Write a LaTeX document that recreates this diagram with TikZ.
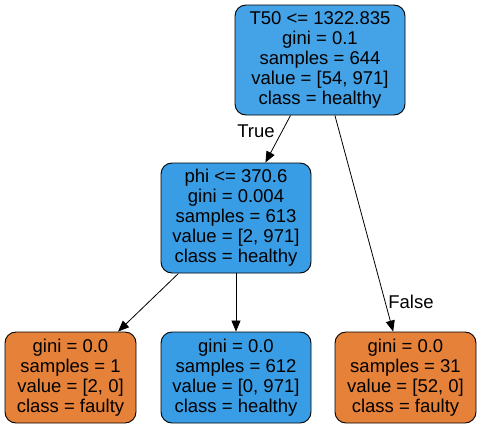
\documentclass[tikz,border=0pt]{standalone}
\usepackage{fontspec}
\setmainfont{Liberation Sans}
\usetikzlibrary{arrows.meta}
\definecolor{healthyblue}{HTML}{399DE5}
\definecolor{rootblue}{HTML}{44A2E6}
\definecolor{faultyorange}{HTML}{E58139}
\begin{document}
\begin{tikzpicture}[x=1pt,y=-1pt,
        treenode/.style={rectangle, rounded corners=11pt, draw=black, line width=0.9pt, align=center, inner sep=0pt, minimum height=110pt, font=\fontsize{18.5}{20}\selectfont},
        leafnode/.style={treenode, minimum height=91pt},
        edgelabel/.style={inner sep=0pt, font=\fontsize{18.5}{20}\selectfont},
        split/.style={-{Triangle[length=11pt,width=9pt]}, line width=0.8pt},
    ]
        \useasboundingbox (0,0) rectangle (481,429);

        %Nodes
        \node[treenode, fill=rootblue, minimum width=170pt] (root) at (320,60) {T50 <= 1322.835\\gini = 0.1\\samples = 644\\value = [54, 971]\\class = healthy};

        \node[treenode, fill=healthyblue, minimum width=150pt] (phi) at (236,218) {phi <= 370.6\\gini = 0.004\\samples = 613\\value = [2, 971]\\class = healthy};

        \node[leafnode, fill=faultyorange, minimum width=131pt] (leafA) at (70.5,377.5) {gini = 0.0\\samples = 1\\value = [2, 0]\\class = faulty};
        \node[leafnode, fill=healthyblue, minimum width=150pt] (leafB) at (236,377.5) {gini = 0.0\\samples = 612\\value = [0, 971]\\class = healthy};
        \node[leafnode, fill=faultyorange, minimum width=141pt] (leafC) at (405.5,377.5) {gini = 0.0\\samples = 31\\value = [52, 0]\\class = faulty};

        \node[edgelabel] (truelabel) at (256,131) {True};
        \node[edgelabel] (falselabel) at (411,302) {False};

        %Lines
        \draw[split] (root) -- (phi);
        \draw[split] (root) -- (leafC);

        \draw[split] (phi) -- (leafA);
        \draw[split] (phi) -- (leafB);
    \end{tikzpicture}
\end{document}
